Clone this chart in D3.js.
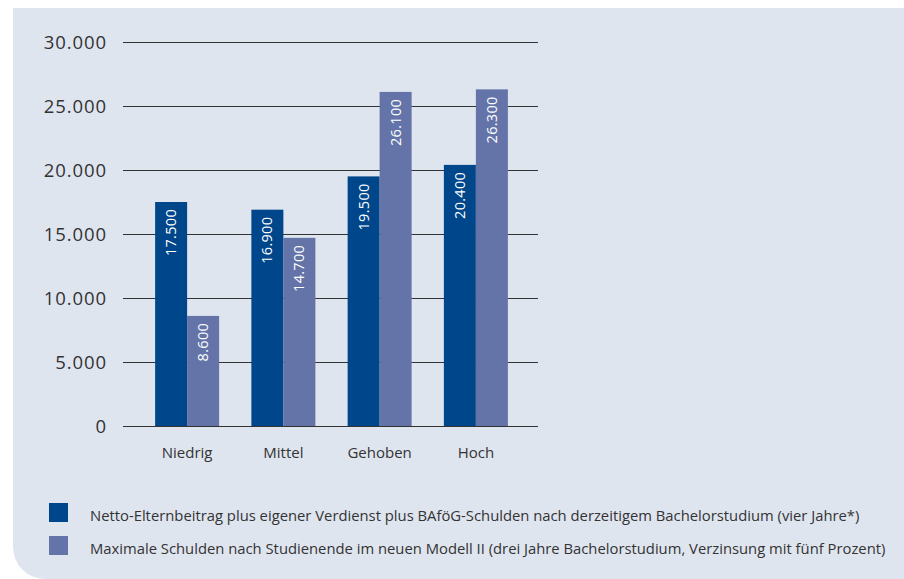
<!DOCTYPE html>
<html><head><meta charset="utf-8">
<script src="https://cdn.jsdelivr.net/npm/d3@7"></script>
<style>body{margin:0;background:#fff;}svg{display:block;}</style>
</head><body>
<svg id="c" width="904" height="579"></svg>
<script>
const categories = ["Niedrig", "Mittel", "Gehoben", "Hoch"];
const seriesNames = [
  "Netto-Elternbeitrag plus eigener Verdienst plus BAföG-Schulden nach derzeitigem Bachelorstudium (vier Jahre*)",
  "Maximale Schulden nach Studienende im neuen Modell II (drei Jahre Bachelorstudium, Verzinsung mit fünf Prozent)"
];
const seriesA = [17500, 16900, 19500, 20400];
const seriesB = [8600, 14700, 26100, 26300];
const yTicks = [0, 5000, 10000, 15000, 20000, 25000, 30000];
const colors = ["#00468a", "#6474a8"];

const svg = d3.select("#c");
const font = "'Open Sans', sans-serif";
const textCol = "#333";

// background panel with rounded bottom-left corner
const bx = 13, by = 8, bw = 904 - 13, bh = 579 - 8, r = 32;
svg.append("path")
  .attr("d", `M${bx},${by} H${bx+bw} V${by+bh} H${bx+r} A${r},${r} 0 0 1 ${bx},${by+bh-r} Z`)
  .attr("fill", "#dfe5ef");

const y = d3.scaleLinear().domain([0, 30000]).range([426, 42]);
const x = d3.scaleBand().domain(categories).range([139, 524]).padding(0);
const groupW = 64;
const xs = d3.scaleBand().domain([0, 1]).range([0, groupW]).padding(0);

const fmt = v => d3.format(",")(v).replace(/,/g, ".");

// gridlines
const gAxis = svg.append("g");
gAxis.selectAll("line").data(yTicks).join("line")
  .attr("x1", 123).attr("x2", 538)
  .attr("y1", d => Math.round(y(d)) + 0.5).attr("y2", d => Math.round(y(d)) + 0.5)
  .attr("stroke", "#333").attr("stroke-width", 1.2);
gAxis.selectAll("text").data(yTicks).join("text")
  .attr("x", 107).attr("y", d => y(d) + 6.5)
  .attr("text-anchor", "end")
  .attr("font-family", font).attr("font-size", 18.5).attr("letter-spacing", 0.9).attr("fill", textCol)
  .text(d => fmt(d));

// bars
const data = [];
categories.forEach((c, i) => {
  data.push({c, s: 0, v: seriesA[i]});
  data.push({c, s: 1, v: seriesB[i]});
});
const gBars = svg.append("g");
gBars.selectAll("rect").data(data).join("rect")
  .attr("x", d => x(d.c) + x.bandwidth()/2 - groupW/2 + xs(d.s))
  .attr("width", xs.bandwidth())
  .attr("y", d => y(d.v))
  .attr("height", d => y(0) - y(d.v))
  .attr("fill", d => colors[d.s]);

gBars.selectAll("text").data(data).join("text")
  .attr("transform", d => {
    const cx = x(d.c) + x.bandwidth()/2 - groupW/2 + xs(d.s) + xs.bandwidth()/2 + 5;
    return `translate(${cx},${y(d.v) + 7}) rotate(-90)`;
  })
  .attr("text-anchor", "end")
  .attr("font-family", font).attr("font-size", 14.5).attr("letter-spacing", 0.3).attr("fill", "#fff")
  .text(d => fmt(d.v));

// category labels
svg.append("g").selectAll("text").data(categories).join("text")
  .attr("x", d => x(d) + x.bandwidth()/2)
  .attr("y", 458)
  .attr("text-anchor", "middle")
  .attr("font-family", font).attr("font-size", 15).attr("fill", textCol)
  .text(d => d);

// legend
const lg = svg.append("g");
seriesNames.forEach((n, i) => {
  lg.append("rect").attr("x", 49).attr("y", 503 + i*33).attr("width", 19).attr("height", 19).attr("fill", colors[i]);
  lg.append("text").attr("x", 90).attr("y", 521 + i*33)
    .attr("font-family", font).attr("font-size", 14.8).attr("fill", textCol)
    .text(n);
});
</script>
</body></html>
